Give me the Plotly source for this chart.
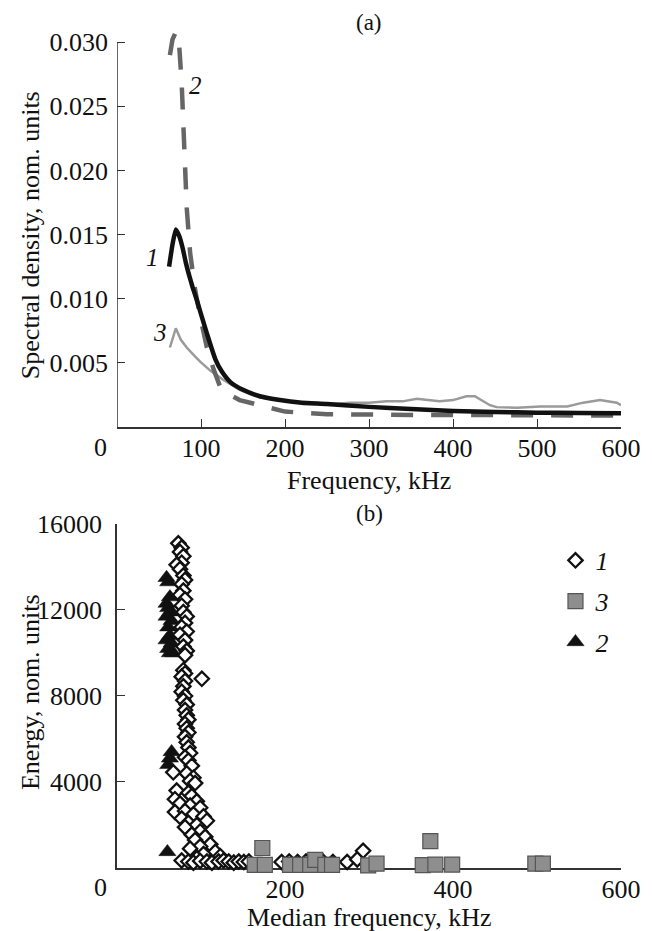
import plotly.graph_objects as go

# ---------- Panel (a): spectral density curves ----------
c1_freq = [62, 66, 70, 74, 78, 82, 86, 90, 95, 100, 107, 117, 125, 135, 150, 170, 194, 220, 250, 300, 350, 400, 450, 500, 550, 600]
c1_dens = [0.0125, 0.0142, 0.0154, 0.0149, 0.0140, 0.0128, 0.0118, 0.0109, 0.0099, 0.0088, 0.0073, 0.0053, 0.0043, 0.0035, 0.0029, 0.0024, 0.0021, 0.0019, 0.0018, 0.00157, 0.0014, 0.00125, 0.00118, 0.00112, 0.0011, 0.00107]

c2_freq = [63, 66, 70, 74, 77, 79, 81, 83, 87, 93, 99, 107, 115, 123, 135, 146, 170, 200, 250, 300, 350, 400, 450, 500, 550, 600]
c2_dens = [0.0290, 0.0302, 0.0308, 0.0298, 0.0268, 0.0234, 0.0208, 0.0171, 0.0136, 0.0107, 0.0086, 0.0062, 0.0045, 0.0031, 0.0025, 0.0021, 0.0017, 0.0012, 0.0010, 0.00094, 0.00094, 0.00094, 0.0009, 0.0009, 0.0009, 0.0009]

c3_freq = [63, 70, 76, 83, 90, 99, 111, 126, 146, 170, 202, 230, 258, 277, 300, 321, 340, 357, 370, 384, 400, 416, 426, 436, 444, 452, 476, 504, 536, 555, 575, 595, 600]
c3_dens = [0.0062, 0.0077, 0.0068, 0.0062, 0.0057, 0.0051, 0.0044, 0.0037, 0.0029, 0.0023, 0.0020, 0.0018, 0.0018, 0.0019, 0.0019, 0.0020, 0.0020, 0.0022, 0.0021, 0.0020, 0.0021, 0.0024, 0.0024, 0.0020, 0.0017, 0.00155, 0.0015, 0.0016, 0.0016, 0.0019, 0.0021, 0.0019, 0.0017]

a_yticks = [0.005, 0.010, 0.015, 0.020, 0.025, 0.030]
a_yticklabels = ["0.005", "0.010", "0.015", "0.020", "0.025", "0.030"]
a_xticks = [100, 200, 300, 400, 500, 600]

# ---------- Panel (b): energy vs median frequency ----------
d1_freq = [73, 77, 75, 79, 77, 71, 75, 79, 81, 77, 79, 75, 81, 77, 79, 83, 81, 77, 83, 75, 81, 79, 83, 81,
           79, 81, 77, 81, 101, 79, 77, 81, 79, 83, 81, 83, 85, 81, 83, 85, 81, 83, 85, 87, 81, 85, 89, 67,
           83, 91, 87, 93, 71, 85, 89, 69, 95, 75, 87, 99, 69, 81, 91, 103, 77, 107, 85, 95, 81, 99, 89, 105,
           93, 111, 99, 87, 117, 103, 123, 95, 77, 85, 91, 99, 107, 113, 121, 127, 133, 139, 145, 151, 157,
           196, 205, 215, 225, 245, 257, 274, 286, 293]
d1_energy = [15100, 14900, 14700, 14500, 14200, 14100, 13900, 13600, 13400, 13200, 12900, 12700, 12500, 12200, 11900, 11700, 11400, 11200, 11000, 10850, 10600, 10300, 10100, 9900,
             9200, 9050, 8900, 8700, 8800, 8450, 8200, 8000, 7800, 7600, 7350, 7100, 6900, 6700, 6500, 6300, 6100, 5850, 5600, 5350, 5150, 5000, 4750, 4450,
             4400, 4200, 4050, 3950, 3600, 3500, 3350, 3200, 3100, 3000, 2900, 2800, 2600, 2650, 2500, 2400, 2300, 2200, 2100, 2000, 1900, 1700, 1550, 1450,
             1300, 1100, 1000, 900, 750, 650, 550, 450, 350, 300, 250, 330, 300, 250, 300, 350, 300, 250, 300, 280, 300,
             280, 300, 280, 300, 300, 280, 280, 400, 800]

d3_freq = [164, 176, 173, 206, 218, 230, 236, 248, 256, 299, 309, 364, 379, 373, 399, 498, 507]
d3_energy = [150, 150, 930, 150, 150, 150, 380, 150, 150, 120, 200, 130, 160, 1250, 160, 200, 200]

d2_freq = [59, 61, 63, 59, 61, 63, 59, 65, 61, 63, 59, 65, 61, 63, 67, 65, 63, 61, 60]
d2_energy = [13500, 13300, 12600, 12300, 12100, 11900, 11700, 11500, 11200, 10800, 10600, 10450, 10200, 10000, 10000, 5400, 5100, 4800, 750]

b_yticks = [4000, 8000, 12000, 16000]
b_yticklabels = ["4000", "8000", "12000", "16000"]
b_xticks = [200, 400, 600]

FONT = "Liberation Serif"
AX = "#333333"

fig = go.Figure()

# panel (a) lines
fig.add_trace(go.Scatter(x=c3_freq, y=c3_dens, mode="lines", line=dict(color="#9a9a9a", width=2.5),
                         xaxis="x", yaxis="y", showlegend=False))
fig.add_trace(go.Scatter(x=c2_freq, y=c2_dens, mode="lines", line=dict(color="#666666", width=4.5, dash="22px,18px"),
                         xaxis="x", yaxis="y", showlegend=False))
fig.add_trace(go.Scatter(x=c1_freq, y=c1_dens, mode="lines", line=dict(color="#111111", width=4.5, shape="spline", smoothing=0.5),
                         xaxis="x", yaxis="y", showlegend=False))

# panel (b) markers
fig.add_trace(go.Scatter(x=d2_freq, y=d2_energy, mode="markers", name="<i>2</i>",
                         marker=dict(symbol="triangle-up", size=15, color="#111111", line=dict(color="#111111", width=0.5)),
                         xaxis="x2", yaxis="y2", cliponaxis=False, legendrank=3, legendgroup="g2"))
fig.add_trace(go.Scatter(x=d1_freq, y=d1_energy, mode="markers", name="<i>1</i>",
                         marker=dict(symbol="diamond", size=11, color="white", line=dict(color="#111111", width=2.3)),
                         xaxis="x2", yaxis="y2", cliponaxis=False, legendrank=1, legendgroup="g1"))
fig.add_trace(go.Scatter(x=d3_freq, y=d3_energy, mode="markers", name="<i>3</i>",
                         marker=dict(symbol="square", size=15, color="#8e8e8e", line=dict(color="#555555", width=1.2)),
                         xaxis="x2", yaxis="y2", cliponaxis=False, legendrank=2, legendgroup="g3"))

axis_common = dict(showgrid=False, zeroline=False, ticks="inside", ticklen=8, tickwidth=1.3, tickcolor=AX,
                   linecolor=AX, linewidth=1.5, tickfont=dict(family=FONT, size=26, color="#111111"),
                   automargin=False)

fig.update_layout(
    width=652, height=931,
    margin=dict(l=109, r=39, t=24, b=71),
    paper_bgcolor="white", plot_bgcolor="white",
    showlegend=True,
    legend=dict(x=0.87, y=0.396, xanchor="left", yanchor="top", bgcolor="rgba(0,0,0,0)",
                font=dict(family=FONT, size=26, color="#111111"), itemwidth=30, tracegroupgap=4),
    xaxis=dict(domain=[0, 1], range=[0, 600], anchor="y", showline=True, tickvals=a_xticks,
               ticklabelstandoff=-3, layer="below traces", **axis_common),
    yaxis=dict(domain=[0.5275, 1.0], range=[0, 0.0308], anchor="x", showline=False,
               tickvals=a_yticks, ticktext=a_yticklabels, ticklabelstandoff=8, **axis_common),
    xaxis2=dict(domain=[0, 1], range=[0, 600], anchor="y2", showline=True, tickvals=b_xticks,
                ticklabelstandoff=-3, layer="below traces", **axis_common),
    yaxis2=dict(domain=[0, 0.4115], range=[0, 16000], anchor="x2", showline=True,
                tickvals=b_yticks, ticktext=b_yticklabels, ticklabelstandoff=8, layer="below traces", **axis_common),
    shapes=[dict(type="line", xref="x", yref="y", x0=0, x1=0, y0=0, y1=0.030,
                 line=dict(color=AX, width=1.5))],
)

tfont = dict(family=FONT, size=26, color="#111111")
cm = dict(xref="paper", yref="paper", showarrow=False, xanchor="center", yanchor="middle")
ann = [
    dict(text="(a)", x=0.5, y=1.011, font=dict(family=FONT, size=23, color="#111111"), **cm),
    dict(text="(b)", x=0.5, y=0.4246, font=dict(family=FONT, size=23, color="#111111"), **cm),
    dict(text="Frequency, kHz", x=0.5, y=0.4641, font=tfont, **cm),
    dict(text="Median frequency, kHz", x=0.5, y=-0.0598, font=tfont, **cm),
    dict(text="Spectral density, nom. units", x=-0.1726, y=0.757, textangle=-90, font=tfont, **cm),
    dict(text="Energy, nom. units", x=-0.1726, y=0.2105, textangle=-90, font=tfont, **cm),
    dict(text="0", x=-0.0337, y=0.5024, font=tfont, **cm),
    dict(text="0", x=-0.0337, y=-0.0239, font=tfont, **cm),
]
lab = dict(xref="x", yref="y", showarrow=False, xanchor="center", yanchor="middle",
           font=dict(family=FONT, size=25, color="#111111"))
ann += [
    dict(text="<i>1</i>", x=42, y=0.0132, **lab),
    dict(text="<i>2</i>", x=93, y=0.0266, **lab),
    dict(text="<i>3</i>", x=51, y=0.0074, **lab),
]
fig.update_layout(annotations=ann)

fig.write_html("out.html")
